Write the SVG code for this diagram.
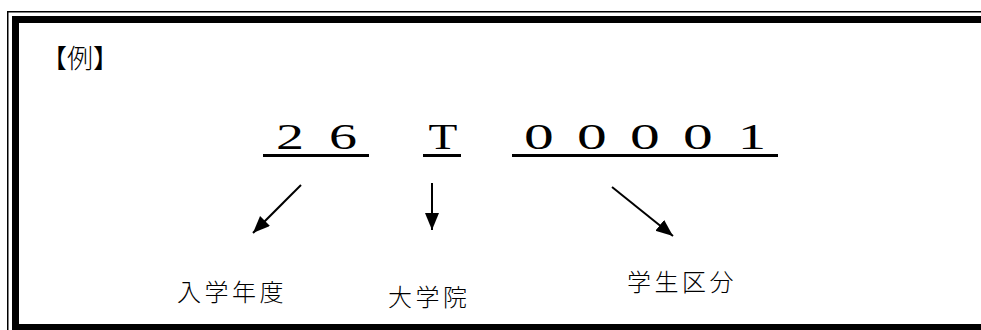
<svg xmlns="http://www.w3.org/2000/svg" width="981" height="330" viewBox="0 0 981 330">
<style>
.jp{font-family:"Noto Sans CJK JP","Noto Sans",sans-serif;fill:#000;font-weight:300}
.lbl{font-size:24px;letter-spacing:3.5px}
.code{font-family:"Liberation Serif",serif;font-size:35px;fill:#000;text-anchor:middle}
.conn{stroke:#000;stroke-width:2;fill:none}
.ul{stroke:#000;stroke-width:3}
</style>
<defs>
<marker id="ah" markerUnits="userSpaceOnUse" markerWidth="18" markerHeight="16" refX="17" refY="7" orient="auto">
<path d="M0,0 L17,7 L0,14 Z" fill="#000"/>
</marker>
</defs>
<rect width="981" height="330" fill="#fff"/>
<g id="frame" fill="none" stroke="#000">
<rect x="7.75" y="11.75" width="1000" height="400" stroke-width="1.5"/>
<rect x="15.5" y="19.5" width="990" height="308" stroke-width="7"/>
</g>
<g id="title"><text class="jp" x="41" y="68" font-size="26">【例】</text></g>
<g id="code">
<text class="code" transform="translate(290,149) scale(1.6,1)">2</text>
<text class="code" transform="translate(343,149) scale(1.6,1)">6</text>
<text class="code" transform="translate(443,149) scale(1.35,1)">T</text>
<text class="code" transform="translate(539,149) scale(1.7,1)">0</text>
<text class="code" transform="translate(592,149) scale(1.7,1)">0</text>
<text class="code" transform="translate(645,149) scale(1.7,1)">0</text>
<text class="code" transform="translate(698,149) scale(1.7,1)">0</text>
<text class="code" transform="translate(752,149) scale(1.6,1)">1</text>
<line class="ul" x1="263" y1="155.5" x2="369" y2="155.5"/>
<line class="ul" x1="423" y1="155.5" x2="461" y2="155.5"/>
<line class="ul" x1="512" y1="155.5" x2="778" y2="155.5"/>
</g>
<g id="connectors">
<line class="conn" x1="301" y1="185" x2="253" y2="233" marker-end="url(#ah)"/>
<line class="conn" x1="432" y1="183" x2="432" y2="230" marker-end="url(#ah)"/>
<line class="conn" x1="612" y1="187" x2="673" y2="236" marker-end="url(#ah)"/>
</g>
<g id="n-year"><text class="jp lbl" x="177" y="301">入学年度</text></g>
<g id="n-grad"><text class="jp lbl" x="388" y="306">大学院</text></g>
<g id="n-student"><text class="jp lbl" x="627" y="291">学生区分</text></g>
</svg>
